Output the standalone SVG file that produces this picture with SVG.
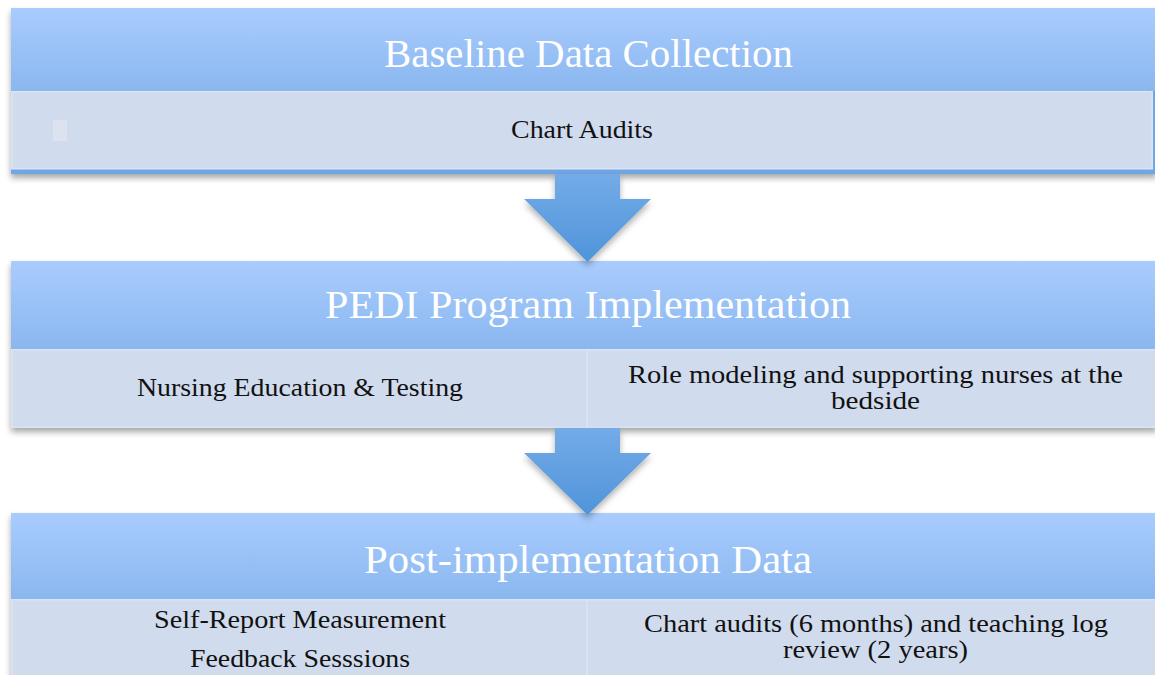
<svg xmlns="http://www.w3.org/2000/svg" width="1155" height="675" viewBox="0 0 1155 675">
<defs>
<linearGradient id="hdr" x1="0" y1="0" x2="0" y2="1">
<stop offset="0" stop-color="#a9ccfe"/>
<stop offset="1" stop-color="#8ab7ef"/>
</linearGradient>
<linearGradient id="arr" x1="0" y1="0" x2="0" y2="1">
<stop offset="0" stop-color="#74abe7"/>
<stop offset="1" stop-color="#4f94da"/>
</linearGradient>
<filter id="sh" x="-5%" y="-10%" width="110%" height="130%">
<feDropShadow dx="0" dy="4" stdDeviation="3" flood-color="#000" flood-opacity="0.35"/>
</filter>
<filter id="ash" x="-20%" y="-20%" width="140%" height="140%">
<feDropShadow dx="0" dy="4" stdDeviation="3" flood-color="#000" flood-opacity="0.3"/>
</filter>
</defs>
<style>
.hdr{fill:url(#hdr)}
.body{fill:#d0dbed;stroke:#dce4f2;stroke-width:1.5}
.div{stroke:#dde4f1;stroke-width:1.5}
.title{font-family:"Liberation Serif","DejaVu Serif",serif;font-size:40px;fill:#ffffff;text-anchor:middle}
.txt{font-family:"Liberation Serif","DejaVu Serif",serif;font-size:25px;fill:#111111;text-anchor:middle}
.arrow{fill:url(#arr);filter:url(#ash)}
</style>
<rect width="1155" height="675" fill="#ffffff"/>

<g id="node-baseline">
<g filter="url(#sh)">
<rect x="11" y="8" width="1146" height="166" fill="#6fa6e6"/>
<rect class="hdr" x="11" y="8" width="1146" height="83"/>
<rect class="body" x="11.75" y="91.75" width="1140.5" height="77"/>
</g>
<rect x="53" y="120" width="14" height="21" fill="#dde2ef"/>
<text class="title" x="588.5" y="67" textLength="409" lengthAdjust="spacingAndGlyphs">Baseline Data Collection</text>
<text class="txt" x="582" y="138" textLength="142" lengthAdjust="spacingAndGlyphs">Chart Audits</text>
</g>

<g id="node-pedi">
<g filter="url(#sh)">
<rect class="hdr" x="11" y="261" width="1146" height="88"/>
<rect class="body" x="11.75" y="349.75" width="1145" height="77.5"/>
</g>
<line class="div" x1="587" y1="350" x2="587" y2="427"/>
<text class="title" x="588" y="318" textLength="526" lengthAdjust="spacingAndGlyphs">PEDI Program Implementation</text>
<text class="txt" x="300" y="396" textLength="326" lengthAdjust="spacingAndGlyphs">Nursing Education &amp; Testing</text>
<text class="txt" x="875.5" y="383" textLength="495" lengthAdjust="spacingAndGlyphs">Role modeling and supporting nurses at the</text>
<text class="txt" x="875.5" y="409" textLength="89" lengthAdjust="spacingAndGlyphs">bedside</text>
</g>

<g id="node-post">
<g filter="url(#sh)">
<rect class="hdr" x="11" y="513" width="1146" height="86"/>
<rect class="body" x="11.75" y="599.75" width="1145" height="80"/>
</g>
<line class="div" x1="587" y1="600" x2="587" y2="675"/>
<text class="title" x="588" y="573" textLength="448" lengthAdjust="spacingAndGlyphs">Post-implementation Data</text>
<text class="txt" x="300" y="628" textLength="292" lengthAdjust="spacingAndGlyphs">Self-Report Measurement</text>
<text class="txt" x="300" y="667" textLength="220" lengthAdjust="spacingAndGlyphs">Feedback Sesssions</text>
<text class="txt" x="876" y="632" textLength="464" lengthAdjust="spacingAndGlyphs">Chart audits (6 months) and teaching log</text>
<text class="txt" x="875.5" y="658" textLength="185" lengthAdjust="spacingAndGlyphs">review (2 years)</text>
</g>

<g id="connectors">
<path class="arrow" d="M555 174 H620 V199 H651 L587.5 262 L524 199 H555 Z"/>
<path class="arrow" d="M555 428 H620 V453 H651 L587.5 515 L524 453 H555 Z"/>
</g>
</svg>
